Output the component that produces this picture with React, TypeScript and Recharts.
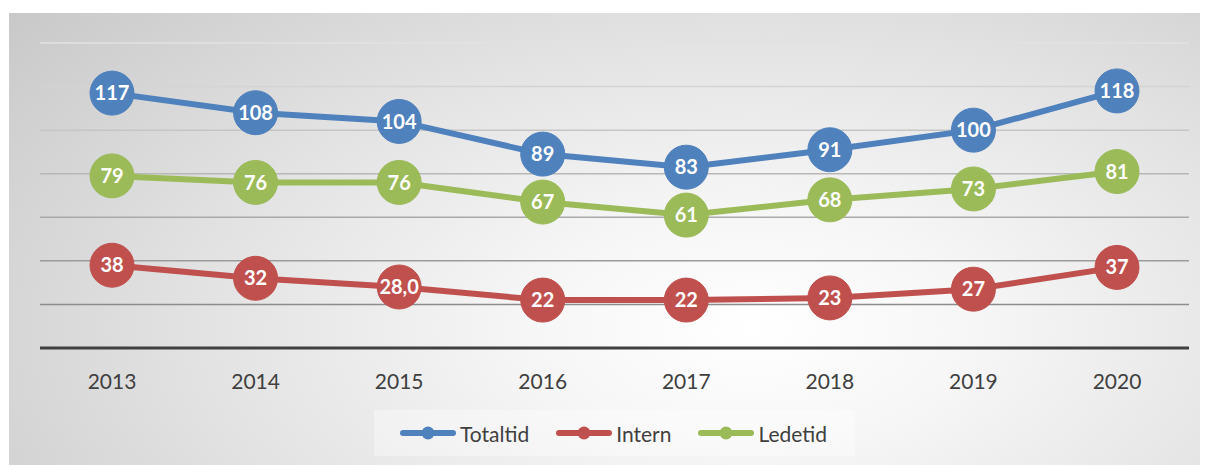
import { LineChart, Line, XAxis, YAxis, CartesianGrid, LabelList } from "recharts";

const years = ["2013", "2014", "2015", "2016", "2017", "2018", "2019", "2020"];
const totaltid = [117, 108, 104, 89, 83, 91, 100, 118];
const intern = [38, 32, 28, 22, 22, 23, 27, 37];
const internText = ["38", "32", "28,0", "22", "22", "23", "27", "37"];
const ledetid = [79, 76, 76, 67, 61, 68, 73, 81];
const yTicks = [0, 20, 40, 60, 80, 100, 120, 140];

const series = [
  { key: "totaltid", label: "totaltidText", name: "Totaltid", color: "#4F81BD" },
  { key: "intern", label: "internText", name: "Intern", color: "#C0504D" },
  { key: "ledetid", label: "ledetidText", name: "Ledetid", color: "#9BBB59" },
];

const data = years.map((year, i) => ({
  year,
  totaltid: totaltid[i],
  totaltidText: String(totaltid[i]),
  intern: intern[i],
  internText: internText[i],
  ledetid: ledetid[i],
  ledetidText: String(ledetid[i]),
}));

const FONT = "Lato, 'Open Sans', sans-serif";

// gridlines get darker towards the bottom of the plot
const gridLine = (props: any) => {
  const { x1, x2, y1, y2 } = props;
  const t = Math.min(1, Math.max(0, (y1 - 30) / 305));
  const v = Math.round(226 - t * 100);
  return (
    <line
      key={props.key ?? `g-${y1}`}
      x1={x1}
      x2={x2}
      y1={y1}
      y2={y2}
      stroke={`rgb(${v},${v},${v})`}
      strokeWidth={1.5}
    />
  );
};

const LegendBox = () => (
  <div
    style={{
      position: "absolute",
      left: 365,
      top: 397,
      width: 481,
      height: 46,
      background: "rgba(255,255,255,0.35)",
      display: "flex",
      alignItems: "center",
      paddingLeft: 25,
      boxSizing: "border-box",
      gap: 26,
      fontFamily: FONT,
      fontSize: 21,
      color: "#404040",
    }}
  >
    {series.map((s) => (
      <div key={s.key} style={{ display: "flex", alignItems: "center", gap: 3 }}>
        <svg width={58} height={14}>
          <line x1={4} x2={54} y1={7} y2={7} stroke={s.color} strokeWidth={6} strokeLinecap="round" />
          <circle cx={29} cy={7} r={6.5} fill={s.color} />
        </svg>
        <span>{s.name}</span>
      </div>
    ))}
  </div>
);

export default function App() {
  return (
    <div style={{ position: "relative", width: 1200, height: 457, background: "#fff" }}>
      <div
        style={{
          position: "absolute",
          left: 1,
          top: 5,
          width: 1199,
          height: 452,
          background:
            "radial-gradient(ellipse 85% 120% at 62% 70%, #ffffff 0%, #f6f6f6 22%, #e2e2e2 55%, #c4c4c4 100%)",
        }}
      >
        <LineChart
          width={1199}
          height={452}
          data={data}
          margin={{ top: 30, right: 19, left: 31, bottom: 77 }}
        >
          <CartesianGrid vertical={false} horizontal={gridLine} />
          <YAxis hide domain={[0, 140]} ticks={yTicks} />
          <XAxis
            dataKey="year"
            height={40}
            padding={{ left: 72, right: 72 }}
            tickLine={false}
            tickMargin={20}
            axisLine={{ stroke: "#404040", strokeWidth: 3 }}
            tick={{ fill: "#404040", fontSize: 21, fontFamily: FONT }}
          />
          {series.map((s) => (
            <Line
              key={s.key}
              type="linear"
              dataKey={s.key}
              name={s.name}
              stroke={s.color}
              strokeWidth={6}
              dot={{ r: 22, fill: s.color, stroke: s.color, strokeWidth: 1 }}
              activeDot={false}
              isAnimationActive={false}
            >
              <LabelList
                dataKey={s.label}
                position="center"
                fill="#ffffff"
                fontSize={20}
                fontWeight={700}
                fontFamily={FONT}
              />
            </Line>
          ))}
        </LineChart>
        <LegendBox />
      </div>
    </div>
  );
}
